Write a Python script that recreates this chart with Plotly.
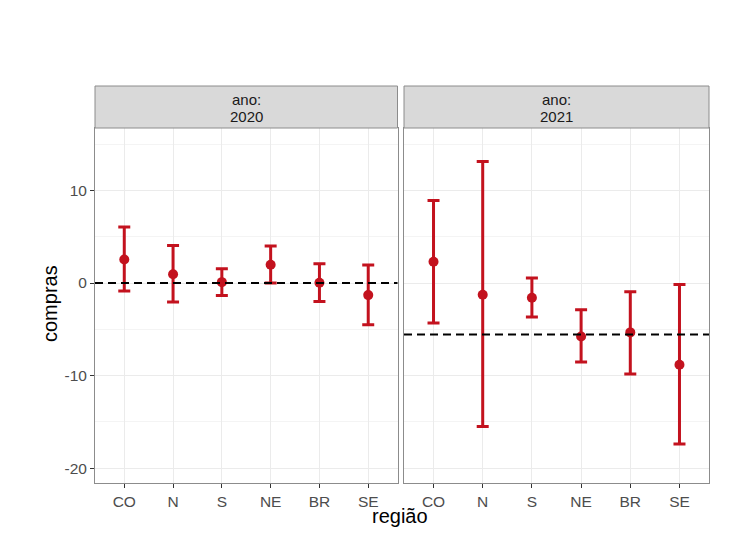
import plotly.graph_objects as go
from plotly.subplots import make_subplots

regioes = ["CO", "N", "S", "NE", "BR", "SE"]
anos = ["2020", "2021"]

est_2020 = [2.55, 0.95, 0.1, 1.98, 0.03, -1.3]
sup_2020 = [6.05, 4.05, 1.54, 4.0, 2.08, 1.94]
inf_2020 = [-0.87, -2.05, -1.34, 0.0, -1.98, -4.5]

est_2021 = [2.3, -1.27, -1.59, -5.77, -5.33, -8.82]
sup_2021 = [8.92, 13.13, 0.54, -2.88, -0.94, -0.15]
inf_2021 = [-4.32, -15.49, -3.67, -8.53, -9.83, -17.39]

ref_2020 = 0.0
ref_2021 = -5.55

y_ticks = [-20, -10, 0, 10]

RED = "#C3121E"
OFF = 8  # page body margin
W, H = 742 - 2 * OFF, 537 - 2 * OFF
FONT = "Liberation Sans, Arial"


def px(x):
    return (x - OFF) / W


def py(y):
    return (H - (y - OFF)) / H


fig = make_subplots(rows=1, cols=2, shared_yaxes=True, horizontal_spacing=0.0)

data = [(est_2020, sup_2020, inf_2020, ref_2020), (est_2021, sup_2021, inf_2021, ref_2021)]
for i, (est, sup, inf, ref) in enumerate(data, start=1):
    fig.add_trace(go.Scatter(
        x=regioes, y=est, mode="markers",
        marker=dict(color=RED, size=10),
        error_y=dict(type="data", symmetric=False,
                     array=[s - e for s, e in zip(sup, est)],
                     arrayminus=[e - l for e, l in zip(est, inf)],
                     color=RED, thickness=3, width=6),
        showlegend=False), row=1, col=i)
    fig.add_hline(y=ref, line=dict(color="black", width=2, dash="8px,5px"), row=1, col=i)

xd = [(px(95), px(397.5)), (px(404), px(709))]
ybot = py(483)
ytop = py(128)
ystrip = py(86)

for i, (x0, x1) in enumerate(xd, start=1):
    ax = "xaxis" if i == 1 else "xaxis2"
    fig.layout[ax].update(
        domain=[x0, x1], range=[-0.6, 5.6], type="category", automargin=False,
        showgrid=True, gridcolor="#EBEBEB", gridwidth=1,
        showline=True, linecolor="#8C8C8C", linewidth=1, mirror=True,
        ticks="outside", ticklen=4, tickcolor="#333333",
        tickfont=dict(family=FONT, size=15.5, color="#4D4D4D"),
        zeroline=False, fixedrange=True)
    fig.add_shape(type="rect", xref="paper", yref="paper",
                  x0=x0, x1=x1, y0=ytop, y1=ystrip,
                  fillcolor="#D9D9D9", line=dict(color="#8C8C8C", width=1))
    fig.add_annotation(xref="paper", yref="paper", x=(x0 + x1) / 2, y=py(99.5),
                       xanchor="center", yanchor="middle",
                       text="ano:", showarrow=False,
                       font=dict(family=FONT, size=15, color="#1A1A1A"))
    fig.add_annotation(xref="paper", yref="paper", x=(x0 + x1) / 2, y=py(116.5),
                       xanchor="center", yanchor="middle",
                       text=anos[i - 1], showarrow=False,
                       font=dict(family=FONT, size=15, color="#1A1A1A"))

for ax in ["yaxis", "yaxis2"]:
    fig.layout[ax].update(
        domain=[ybot, ytop], range=[-21.6, 16.75], automargin=False,
        tickvals=y_ticks, ticktext=[str(v) for v in y_ticks],
        showgrid=True, gridcolor="#EBEBEB", gridwidth=1.3,
        minor=dict(tickvals=[-15, -5, 5, 15], showgrid=True, gridcolor="#F4F4F4", gridwidth=0.7),
        showline=True, linecolor="#8C8C8C", linewidth=1, mirror=True,
        zeroline=False, fixedrange=True,
        tickfont=dict(family=FONT, size=15.5, color="#4D4D4D"))
fig.layout.yaxis.update(ticks="outside", ticklen=4, tickcolor="#333333")
fig.layout.yaxis2.update(showticklabels=False, ticks="")

fig.add_annotation(xref="paper", yref="paper", x=px(400), y=py(516),
                   xanchor="center", yanchor="middle",
                   text="região", showarrow=False,
                   font=dict(family=FONT, size=20, color="#000000"))
fig.add_annotation(xref="paper", yref="paper", x=px(50), y=py(304),
                   xanchor="center", yanchor="middle",
                   text="compras", showarrow=False, textangle=-90,
                   font=dict(family=FONT, size=20, color="#000000"))

fig.update_layout(width=W, height=H, margin=dict(l=0, r=0, t=0, b=0, autoexpand=False),
                  plot_bgcolor="white", paper_bgcolor="white")

fig.write_html("out.html")
